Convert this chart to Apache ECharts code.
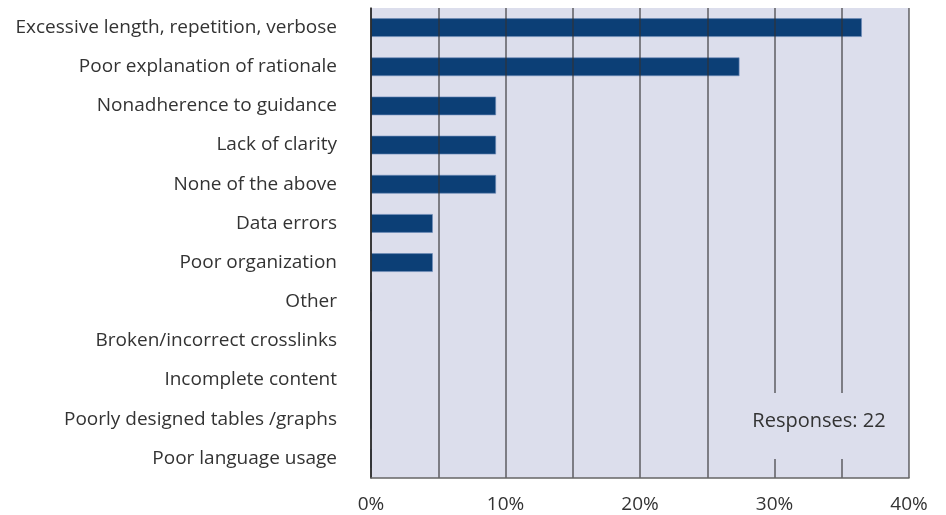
<!DOCTYPE html>
<html><head><meta charset="utf-8">
<script src="https://cdn.jsdelivr.net/npm/echarts@6/dist/echarts.min.js"></script>
<style>html,body{margin:0;padding:0;background:#fff}#c{width:946px;height:515px}</style>
</head><body><div id="c"></div>
<script>
const categories = ["Excessive length, repetition, verbose","Poor explanation of rationale","Nonadherence to guidance","Lack of clarity","None of the above","Data errors","Poor organization","Other","Broken/incorrect crosslinks","Incomplete content","Poorly designed tables /graphs","Poor language usage"];
const values = [36.5, 27.4, 9.3, 9.3, 9.3, 4.6, 4.6, 0, 0, 0, 0, 0];
const responsesLabel = "Responses: 22";

const chart = echarts.init(document.getElementById('c'));
chart.setOption({
  animation: false,
  grid: {left: 371, right: 37, top: 8, bottom: 37, show: true, backgroundColor: '#dcdeec', borderWidth: 0},
  xAxis: {
    type: 'value', min: 0, max: 40, interval: 5, z: 5,
    axisLine: {show: true, lineStyle: {color: '#666', width: 1.5}},
    axisTick: {show: false},
    splitLine: {show: true, lineStyle: {color: '#333', width: 1.5, opacity: 0.75}},
    axisLabel: {color: '#333', fontSize: 19, fontFamily: 'Open Sans', margin: 17,
      formatter: v => (v % 10 === 0 ? v + '%' : '')}
  },
  yAxis: {
    type: 'category', data: categories, inverse: true, z: 5,
    axisLine: {show: true, lineStyle: {color: '#222', width: 1.5}},
    axisTick: {show: false},
    axisLabel: {color: '#333', fontSize: 19, fontFamily: 'Open Sans', margin: 34}
  },
  series: [{
    type: 'bar', data: values, barWidth: '48%', z: 2,
    itemStyle: {color: '#0c3f76', borderColor: 'rgba(110,140,185,0.8)', borderWidth: 0.8}
  }],
  graphic: [
    {type: 'rect', z: 100, shape: {x: 745, y: 393, width: 158, height: 66}, style: {fill: '#dcdeec'}},
    {type: 'text', z: 101, x: 819, y: 421, style: {text: responsesLabel, fill: '#333', fontSize: 20, fontFamily: 'Open Sans', align: 'center', verticalAlign: 'middle'}}
  ]
});
</script></body></html>
